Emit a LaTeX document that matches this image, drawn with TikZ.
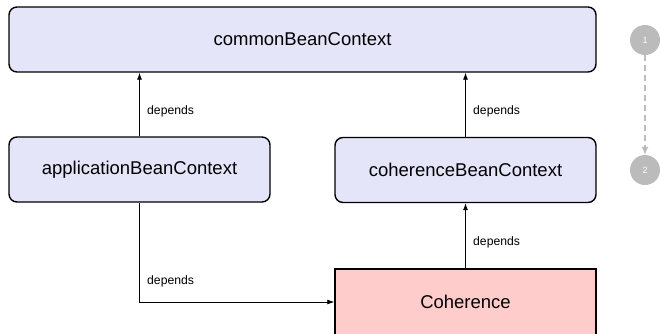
\documentclass[tikz,border=0pt]{standalone}
\usepackage{fontspec}
\setmainfont{Liberation Sans}
\usetikzlibrary{arrows.meta}
\definecolor{beanfill}{RGB}{229,229,250}
\definecolor{cohfill}{RGB}{255,204,204}
\definecolor{stepgray}{RGB}{187,187,187}
\tikzset{
  bean/.style={draw=black, line width=1.4pt, fill=beanfill, rounded corners=8pt, inner sep=0pt,
    font=\fontsize{18.5}{22}\selectfont},
  cohbox/.style={draw=black, line width=1.4pt, fill=cohfill, inner sep=0pt,
    font=\fontsize{18.5}{22}\selectfont},
  dep/.style={draw=black, line width=0.8pt, -{Latex[length=7pt,width=5pt]}},
  deplabel/.style={anchor=west, inner sep=0pt, font=\fontsize{12.2}{14}\selectfont},
  stepcircle/.style={circle, fill=stepgray, minimum size=30pt, inner sep=0pt, text=white,
    font=\fontsize{9}{10}\selectfont},
  steparrow/.style={draw=stepgray, line width=1.2pt, dashed, dash pattern=on 6pt off 4pt,
    -{Latex[length=8pt,width=7pt]}}
}
\begin{document}
\begin{tikzpicture}[x=1pt,y=-1pt]
\useasboundingbox (0,0) rectangle (660,333);
\clip (0,0) rectangle (660,333);
\node[bean, minimum width=587pt, minimum height=65pt] (common) at (302.5,39.5) {commonBeanContext};
\node[bean, minimum width=261pt, minimum height=65pt] (app) at (139.5,169.5) {applicationBeanContext};
\node[bean, minimum width=261pt, minimum height=65pt] (cbc) at (465.5,170) {coherenceBeanContext};
\node[cohbox, minimum width=261pt, minimum height=66pt] (coh) at (465.5,302) {Coherence};

\draw[dep] (app.north) -- (app.north |- common.south);
\draw[dep] (cbc.north) -- (cbc.north |- common.south);
\draw[dep] (coh.north) -- (cbc.south);
\draw[dep] (app.south) -- (app.south |- coh.west) -- (coh.west);

\node[deplabel] (l1) at (147,111) {depends};
\node[deplabel] (l2) at (473,111) {depends};
\node[deplabel] (l3) at (473,242) {depends};
\node[deplabel] (l4) at (147,281) {depends};

\node[stepcircle] (s1) at (645,40) {1};
\node[stepcircle] (s2) at (645,170) {2};
\draw[steparrow] (s1.south) -- (s2.north);
\end{tikzpicture}
\end{document}
